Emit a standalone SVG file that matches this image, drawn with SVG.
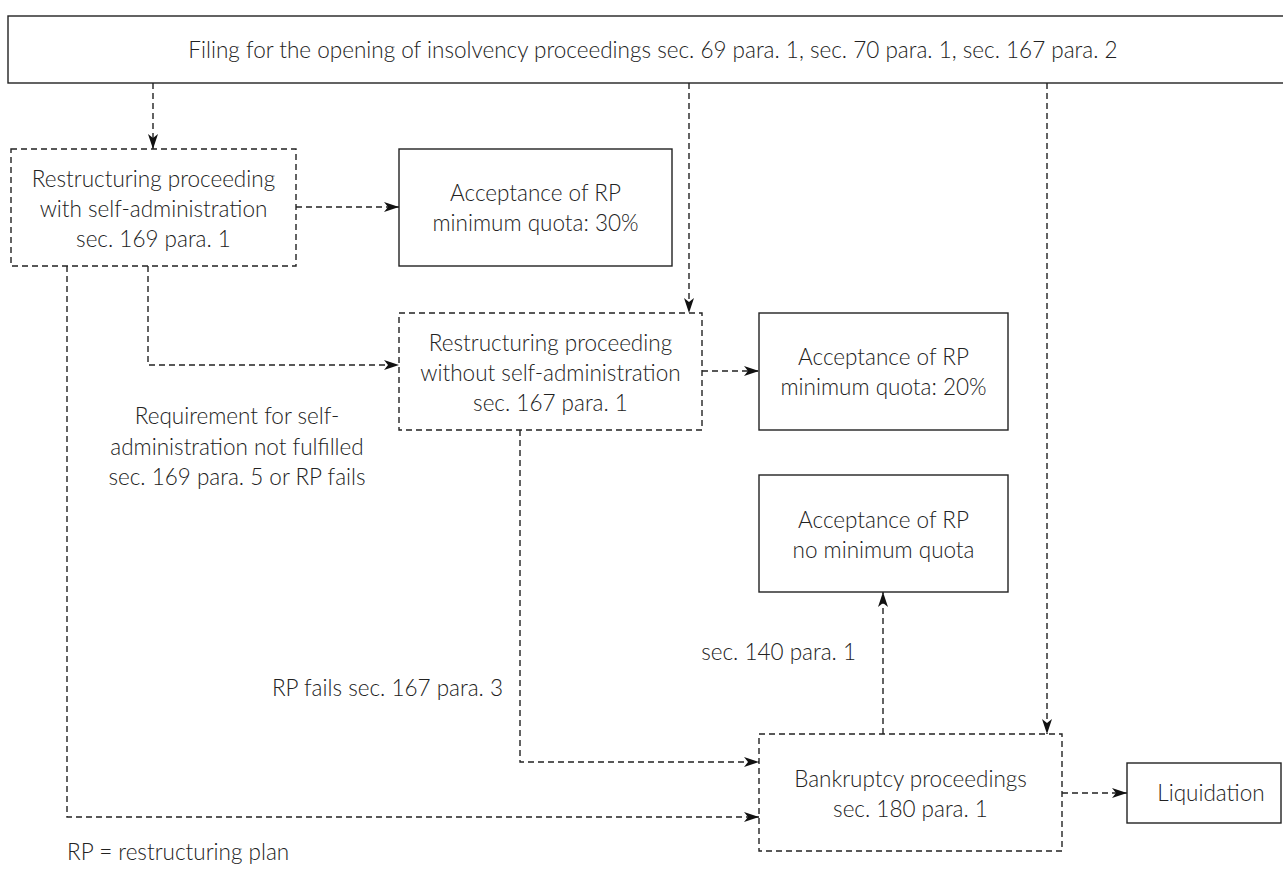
<svg xmlns="http://www.w3.org/2000/svg" width="1283" height="870" viewBox="0 0 1283 870">
  <style>
    .box { fill: #ffffff; stroke: #222222; stroke-width: 1.4; }
    .dbox { fill: #ffffff; stroke: #222222; stroke-width: 1.4; stroke-dasharray: 6 4; }
    .conn { fill: none; stroke: #222222; stroke-width: 1.4; stroke-dasharray: 6 4; }
    .t { font-family: Lato, "Open Sans", "Liberation Sans", sans-serif; font-weight: 300; font-size: 22.5px; fill: #222222; text-anchor: middle; }
    .tl { font-family: Lato, "Open Sans", "Liberation Sans", sans-serif; font-weight: 300; font-size: 22.5px; fill: #222222; }
  </style>
  <defs>
    <marker id="arr" viewBox="0 0 15 10" refX="15" refY="5" markerWidth="15" markerHeight="10" markerUnits="userSpaceOnUse" orient="auto">
      <path d="M0,0 L15,5 L0,10 L4,5 Z" fill="#111111"/>
    </marker>
  </defs>

  <g id="connectors">
    <path class="conn" d="M153,83 V149" marker-end="url(#arr)"/>
    <path class="conn" d="M689,83 V313" marker-end="url(#arr)"/>
    <path class="conn" d="M1047,83 V734" marker-end="url(#arr)"/>
    <path class="conn" d="M296,207 H399" marker-end="url(#arr)"/>
    <path class="conn" d="M148,266 V365 H399" marker-end="url(#arr)"/>
    <path class="conn" d="M702,371 H759" marker-end="url(#arr)"/>
    <path class="conn" d="M67,266 V817 H759" marker-end="url(#arr)"/>
    <path class="conn" d="M520,430 V762 H759" marker-end="url(#arr)"/>
    <path class="conn" d="M883,734 V592" marker-end="url(#arr)"/>
    <path class="conn" d="M1062,793 H1127" marker-end="url(#arr)"/>
  </g>

  <g id="filing">
    <rect class="box" x="8" y="16" width="1290" height="67"/>
    <text class="t" x="653" y="58">Filing for the opening of insolvency proceedings sec. 69 para. 1, sec. 70 para. 1, sec. 167 para. 2</text>
  </g>

  <g id="rp-self-admin">
    <rect class="dbox" x="11" y="149" width="285" height="117"/>
    <text class="t" x="153.5" y="187">Restructuring proceeding</text>
    <text class="t" x="153.5" y="217">with self-administration</text>
    <text class="t" x="153.5" y="247">sec. 169 para. 1</text>
  </g>

  <g id="acc30">
    <rect class="box" x="399" y="149" width="273" height="117"/>
    <text class="t" x="535.5" y="201">Acceptance of RP</text>
    <text class="t" x="535.5" y="231">minimum quota: 30%</text>
  </g>

  <g id="rp-no-self-admin">
    <rect class="dbox" x="399" y="313" width="303" height="117"/>
    <text class="t" x="550.5" y="351">Restructuring proceeding</text>
    <text class="t" x="550.5" y="381">without self-administration</text>
    <text class="t" x="550.5" y="411">sec. 167 para. 1</text>
  </g>

  <g id="acc20">
    <rect class="box" x="759" y="313" width="249" height="117"/>
    <text class="t" x="883.5" y="365">Acceptance of RP</text>
    <text class="t" x="883.5" y="395">minimum quota: 20%</text>
  </g>

  <g id="acc-nomin">
    <rect class="box" x="759" y="475" width="249" height="117"/>
    <text class="t" x="883.5" y="528">Acceptance of RP</text>
    <text class="t" x="883.5" y="558">no minimum quota</text>
  </g>

  <g id="bankruptcy">
    <rect class="dbox" x="759" y="734" width="303" height="117"/>
    <text class="t" x="910.5" y="787">Bankruptcy proceedings</text>
    <text class="t" x="910.5" y="817">sec. 180 para. 1</text>
  </g>

  <g id="liquidation">
    <rect class="box" x="1127" y="763" width="154" height="60"/>
    <text class="t" x="1211" y="801">Liquidation</text>
  </g>

  <g id="labels">
    <text class="t" x="237" y="424">Requirement for self-</text>
    <text class="t" x="237" y="455">administration not fulfilled</text>
    <text class="t" x="237" y="485">sec. 169 para. 5 or RP fails</text>
    <text class="tl" x="503" y="696" text-anchor="end">RP fails sec. 167 para. 3</text>
    <text class="tl" x="856" y="660" text-anchor="end">sec. 140 para. 1</text>
    <text class="tl" x="67" y="860">RP = restructuring plan</text>
  </g>
</svg>
